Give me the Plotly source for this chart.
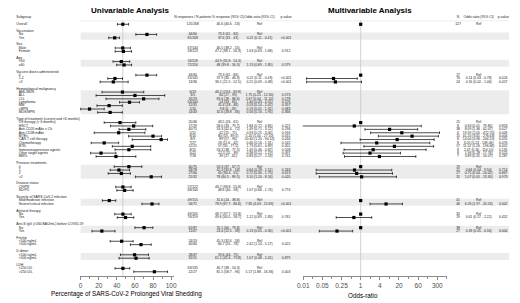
import plotly.graph_objects as go

# ---------------- data ----------------
group_names = ["Vaccination", "Sex", "Age", "Vaccine doses administered", "Hematological malignancy",
               "Type of treatment (current and <6 months)", "Previous treatments", "Disease status",
               "Severity of SARS-CoV-2 infection", "Antiviral therapy",
               "Anti-S IgG (>260 BAU/mL) before COVID-19", "Ferritin", "D-dimer", "LDH"]
group_levels = [["No", "Yes"], ["Male", "Female"], ["<60", "\u226560"], ["0", "1-2", ">2"],
                ["AML/MDS", "ALL", "CLL", "Lymphoma", "MM", "cMPN", "MDS/MPN"],
                ["Off therapy (> 6 months)", "HSCT", "Anti-CD20 mAbs \u00b1 Ch", "Anti-CD38 mAbs", "BiTEs",
                 "CAR-T cell therapy", "Chemotherapy", "BTKi", "Immunosuppressive agents",
                 "Other target agents", "BMTs"],
                ["0", "1", "2", ">2"], ["CR/PR", "SD/PD"],
                ["Mild/moderate infection", "Severe/critical infection"], ["No", "Yes"], ["No", "Yes"],
                ["<500 ng/mL", ">500 ng/mL"], ["<500 ng/mL", ">500 ng/mL"], ["<250 U/L", ">250 U/L"]]
shaded_groups = ["Vaccination", "Age", "Hematological malignancy", "Previous treatments",
                 "Severity of SARS-CoV-2 infection", "Anti-S IgG (>260 BAU/mL) before COVID-19", "D-dimer"]

# univariable (Overall first, then every level in order)
uni_counts = ["125/268",
              "44/60", "81/208", "67/144", "58/123", "53/118", "72/150", "44/60", "55/145", "13/36",
              "6/13", "3/5", "16/23", "54/100", "11/35", "1/10", "14/43",
              "20/46", "17/29", "40/75", "5/12", "8/10", "8/9", "7/27", "12/21", "8/15", "5/22", "7/18",
              "40/75", "33/78", "27/60", "25/32", "57/122", "68/140", "49/155", "56/71",
              "49/105", "76/159", "61/87", "11/47", "24/53", "40/60", "28/47", "31/51", "63/135", "22/27"]
uni_pct = [46.6,
           73.3, 37.6, 46.5, 47.2, 44.9, 48.0, 73.3, 37.9, 36.1,
           46.2, 60.0, 69.6, 54.0, 31.4, 9.8, 32.6,
           43.5, 58.6, 53.3, 42.0, 80.0, 89.0, 26.0, 57.0, 53.3, 22.5, 39.0,
           53.3, 42.3, 45.0, 78.0, 46.7, 48.6, 31.6, 78.9,
           46.7, 49.6, 70.1, 23.4, 45.3, 66.7, 59.6, 61.2, 46.7, 81.5]
uni_lo = [40.6,
          61.0, 31.0, 38.2, 38.1, 35.8, 39.8, 61.0, 30.0, 21.5,
          23.6, 17.0, 28.0, 43.0, 18.0, 0.0, 18.8,
          26.0, 33.0, 42.4, 15.0, 53.0, 57.0, 11.6, 35.0, 38.0, 11.0, 17.0,
          37.0, 32.6, 30.4, 60.5, 38.8, 40.0, 24.0, 67.7,
          37.7, 40.5, 60.0, 12.5, 32.6, 55.0, 44.0, 42.4, 38.0, 58.7]
uni_hi = [53.0,
          84.0, 43.0, 55.0, 56.3, 54.3, 56.3, 84.0, 46.3, 52.5,
          69.8, 93.0, 86.6, 65.0, 46.0, 26.0, 46.0,
          61.0, 79.7, 72.0, 71.0, 89.5, 96.0, 42.0, 77.5, 77.5, 39.0, 61.0,
          67.7, 54.0, 55.0, 89.5, 55.8, 58.0, 38.8, 86.6,
          55.8, 58.7, 79.8, 38.0, 58.0, 78.0, 75.0, 75.8, 54.3, 96.0]
uni_or = ["Ref",
          "Ref", "0.22 (0.11 - 0.41)", "Ref", "1.03 (0.63 - 1.68)", "Ref", "1.13 (0.69 - 1.85)",
          "Ref", "0.22 (0.11 - 0.43)", "0.21 (0.09 - 0.48)",
          "Ref", "1.75 (0.25 - 12.30)", "2.67 (0.64 - 11.10)", "1.40 (0.43 - 4.55)", "0.53 (0.14 - 2.02)",
          "0.13 (0.01 - 1.31)", "0.56 (0.16 - 1.95)",
          "Ref", "1.84 (0.72 - 4.80)", "1.49 (0.71 - 3.12)", "0.93 (0.25 - 3.40)", "5.20 (1.00 - 27.10)",
          "10.40 (1.20 - 90.10)", "0.46 (0.16 - 1.31)", "1.73 (0.61 - 4.89)", "1.49 (0.46 - 4.82)",
          "0.38 (0.12 - 1.19)", "0.83 (0.27 - 2.53)",
          "Ref", "0.64 (0.28 - 1.51)", "0.72 (0.30 - 1.75)", "3.10 (1.20 - 8.16)",
          "Ref", "1.07 (0.66 - 1.74)", "Ref", "7.85 (4.03 - 15.69)", "Ref", "1.12 (0.69 - 1.83)",
          "Ref", "0.13 (0.05 - 0.30)", "Ref", "2.42 (1.14 - 5.17)", "Ref", "1.07 (0.48 - 2.41)",
          "Ref", "5.17 (1.88 - 16.36)"]
uni_p = ["",
         "", "<0.001", "", "0.912", "", "0.579", "", "<0.001", "<0.001",
         "", "0.573", "0.178", "0.576", "0.357", "0.083", "0.366",
         "", "0.221", "0.296", "0.916", "0.051", "0.034", "0.145", "0.301", "0.508", "0.097", "0.741",
         "", "0.263", "0.613", "0.020", "", "0.774", "", "<0.001", "", "0.761",
         "", "<0.001", "", "0.022", "", "0.879", "", "0.003"]

# multivariable (None = not in model)
multi_n = ["127",
           None, None, None, None, None, None, "27", "76", "24",
           None, None, None, None, None, None, None,
           "15", "8", "38", "6", "15", "8", "8", "17", "8", "8", "7",
           "19", "21", "27", "31", None, None, "41", "46",
           "32", "19", "38", "27", None, None, None, None, None, None]
multi_est = [1,
             None, None, None, None, None, None, 1, 0.14, 0.16,
             None, None, None, None, None, None, None,
             1, 0.63, 8.09, 19.6, 41.2, 14.0, 3.2, 11.5, 2.47, 1.96, 3.89,
             1, 0.64, 0.75, 1.07, None, None, 1, 6.26,
             1, 0.61, 1, 0.18, None, None, None, None, None, None]
multi_lo = [None,
            None, None, None, None, None, None, None, 0.02, 0.02,
            None, None, None, None, None, None, None,
            None, 0.012, 1.36, 2.05, 3.6, 0.96, 0.24, 1.26, 0.30, 0.28, 0.31,
            None, 0.04, 0.04, 0.05, None, None, None, 1.97,
            None, 0.17, None, 0.05, None, None, None, None, None, None]
multi_hi = [None,
            None, None, None, None, None, None, None, 0.78, 1.06,
            None, None, None, None, None, None, None,
            None, 80.0, 62.0, 300.0, 276.0, 204.0, 149.0, 196.0, 114.0, 17.8, 54.1,
            None, 9.5, 10.0, 13.3, None, None, None, 20.5,
            None, 2.22, None, 0.56, None, None, None, None, None, None]
multi_or = ["Ref",
            None, None, None, None, None, None, "Ref", "0.14 (0.03 - 0.78)", "0.16 (0.02 - 1.06)",
            None, None, None, None, None, None, None,
            "Ref", "0.63 (0.01 - 79.80)", "8.09 (1.36 - 62.07)", "19.59 (2.05 - 472.70)",
            "41.20 (3.61 - 276.63)", "14.00 (0.96 - 204.10)", "3.20 (0.24 - 149.06)",
            "11.52 (1.26 - 196.66)", "2.47 (0.30 - 114.10)", "1.96 (0.28 - 17.76)", "3.89 (0.31 - 54.07)",
            "Ref", "0.64 (0.04 - 9.50)", "0.75 (0.04 - 10.02)", "1.07 (0.05 - 13.30)", None, None,
            "Ref", "6.26 (1.97 - 20.53)", "Ref", "0.61 (0.17 - 2.22)", "Ref", "0.18 (0.05 - 0.56)",
            None, None, None, None, None, None]
multi_p = ["",
           None, None, None, None, None, None, "", "0.024", "0.057",
           None, None, None, None, None, None, None,
           "", "0.853", "0.027", "0.009", "0.004", "0.055", "0.476", "0.052", "0.135", "0.525", "0.287",
           "", "0.714", "0.867", "0.973", None, None, "", "0.002", "", "0.452", "", "0.004",
           None, None, None, None, None, None]

x_ticks_uni = [0, 20, 40, 60, 80, 100]
x_ticks_multi = [4 ** k for k in range(-3, 5)]
x_ticktext_multi = ["0.01", "0.05", "0.25", "1", "4", "20", "60", "300"]

# ---------------- layout of rows ----------------
W, H = 520, 303
Y0, DY = 17.5, 3.39          # pixel of row 0, pixel per row
Y_AX = 276                   # pixel of x-axis line

row_k, row_lab, row_hdr = [], [], []
item_k = [2]                 # overall
row_k += [0, 2]; row_lab += ["Subgroup", "Overall"]; row_hdr += [True, True]
k = 4
bands = []
for g, lv in zip(group_names, group_levels):
    row_k.append(k); row_lab.append(g); row_hdr.append(True)
    k0 = k + 1
    for l in lv:
        k += 1
        row_k.append(k); row_lab.append(l); row_hdr.append(False)
        item_k.append(k)
    if g in shaded_groups:
        bands.append((k0, k))
    k += 2

FONT = "Liberation Sans, Arial, sans-serif"
TXT = "#222222"
fig = go.Figure()

def px2paper_y(p):
    return 1 - p / H

# shaded bands (paper-x so they sit in the global layer below every subplot)
for a, b in bands:
    fig.add_shape(type="rect", xref="paper", yref="y", x0=76 / W, x1=512 / W, y0=a - 0.55, y1=b + 0.55,
                  fillcolor="#ececec", line_width=0, layer="below")
# header separator
fig.add_shape(type="line", xref="paper", yref="y", x0=76 / W, x1=512 / W, y0=1.0, y1=1.0,
              line=dict(color="#e3e3e3", width=0.6), layer="below")

# reference lines
fig.add_shape(type="line", xref="x", yref="y", x0=uni_pct[0], x1=uni_pct[0], y0=0.8,
              y1=(Y_AX - Y0) / DY, line=dict(color="#c8c8c8", width=0.8), layer="below")
fig.add_shape(type="line", xref="x2", yref="y", x0=1, x1=1, y0=0.8,
              y1=(Y_AX - Y0) / DY, line=dict(color="#c8c8c8", width=0.8), layer="below")

# univariable forest
fig.add_trace(go.Scatter(
    x=uni_pct, y=item_k, mode="markers", xaxis="x", yaxis="y", cliponaxis=False,
    marker=dict(symbol="square", size=3.2, color="black"),
    error_x=dict(type="data", symmetric=False,
                 array=[h - p for h, p in zip(uni_hi, uni_pct)],
                 arrayminus=[p - l for p, l in zip(uni_pct, uni_lo)],
                 color="black", thickness=0.7, width=1.3),
    showlegend=False, hoverinfo="skip"))

# multivariable forest: points with CI, and Ref points
mk, me, ml, mh, rk = [], [], [], [], []
for kk, e, l, h in zip(item_k, multi_est, multi_lo, multi_hi):
    if e is None:
        continue
    if l is None:
        rk.append(kk)
    else:
        mk.append(kk); me.append(e); ml.append(l); mh.append(h)
fig.add_trace(go.Scatter(
    x=me, y=mk, mode="markers", xaxis="x2", yaxis="y", cliponaxis=False,
    marker=dict(symbol="square", size=3.2, color="black"),
    error_x=dict(type="data", symmetric=False,
                 array=[h - e for h, e in zip(mh, me)],
                 arrayminus=[e - l for e, l in zip(me, ml)],
                 color="black", thickness=0.7, width=1.3),
    showlegend=False, hoverinfo="skip"))
fig.add_trace(go.Scatter(
    x=[1] * len(rk), y=rk, mode="markers", xaxis="x2", yaxis="y", cliponaxis=False,
    marker=dict(symbol="square", size=3.2, color="black"), showlegend=False, hoverinfo="skip"))

# text helper
def text_trace(xs, ys, texts, pos, size=3.4, color=TXT):
    fig.add_trace(go.Scatter(x=xs, y=ys, text=texts, mode="text", xaxis="x3", yaxis="y",
                             textposition=pos, cliponaxis=False,
                             textfont=dict(family=FONT, size=size, color=color),
                             showlegend=False, hoverinfo="skip"))

# row labels
text_trace([10.5 if h else 13.0 for h in row_hdr], row_k, row_lab, "middle right")

# column headers
text_trace([190, 226, 258, 285, 460, 481, 506], [0] * 7,
           ["N responses / N patients", "% response (95% CI)", "Odds-ratio (95% CI)", "p-value",
            "N", "Odds-ratio (95% CI)", "p-value"], "middle center")

# univariable columns
text_trace([190] * len(item_k), item_k, uni_counts, "middle center")
text_trace([226] * len(item_k), item_k,
           [f"{p:g} ({l:g} - {h:g})" for p, l, h in zip(uni_pct, uni_lo, uni_hi)], "middle center")
text_trace([258] * len(item_k), item_k, uni_or, "middle center")
text_trace([285] * len(item_k), item_k, uni_p, "middle center")

# multivariable columns
sel = [i for i, v in enumerate(multi_n) if v is not None]
text_trace([460] * len(sel), [item_k[i] for i in sel], [multi_n[i] for i in sel], "middle center")
text_trace([481] * len(sel), [item_k[i] for i in sel], [multi_or[i] for i in sel], "middle center")
text_trace([506] * len(sel), [item_k[i] for i in sel], [multi_p[i] for i in sel], "middle center")

# titles
ann = [
    dict(text="<b>Univariable Analysis</b>", x=127 / W, y=px2paper_y(10.5), font=dict(size=8.0)),
    dict(text="<b>Multivariable Analysis</b>", x=370 / W, y=px2paper_y(11), font=dict(size=8.0)),
    dict(text="Percentage of SARS-CoV-2 Prolonged Viral Shedding", x=123 / W, y=px2paper_y(294),
         font=dict(size=6.3)),
    dict(text="Odds-ratio", x=363 / W, y=px2paper_y(295), font=dict(size=6.3)),
]
for a in ann:
    a.update(xref="paper", yref="paper", showarrow=False, xanchor="center", yanchor="middle")
    a["font"].update(family=FONT, color="black")
fig.update_layout(annotations=ann)

kbot = (Y_AX - Y0) / DY
ktop = (0 - Y0) / DY
axis_common = dict(showgrid=False, zeroline=False, showline=True, linecolor="#8c8c8c", linewidth=0.8,
                   ticks="outside", ticklen=3, tickwidth=0.8, tickcolor="#8c8c8c",
                   tickfont=dict(family=FONT, size=6.5, color="#4d4d4d"), anchor="y")
fig.update_layout(
    width=W, height=H, margin=dict(l=0, r=0, t=0, b=0),
    paper_bgcolor="white", plot_bgcolor="rgba(0,0,0,0)",
    xaxis=dict(domain=[75 / W, 171 / W], range=[-1.087, 103.26], tickvals=x_ticks_uni,
               minor=dict(tickvals=[10, 30, 50, 70, 90], ticklen=2, tickcolor="#8c8c8c", ticks="outside"),
               **axis_common),
    xaxis2=dict(domain=[302 / W, 449 / W], type="log", range=[-1.82, 2.72],
                tickvals=x_ticks_multi, ticktext=x_ticktext_multi,
                minor=dict(tickvals=[2 * 4 ** k for k in range(-4, 5)], ticklen=2,
                           tickcolor="#8c8c8c", ticks="outside"),
                **axis_common),
    xaxis3=dict(domain=[0, 1], range=[0, W], visible=False, anchor="y"),
    yaxis=dict(domain=[1 - Y_AX / H, 1], range=[kbot, ktop], visible=False, fixedrange=True),
)

fig.write_html("out.html", config={"displayModeBar": False},
               post_script="document.body.style.margin='0';document.body.style.padding='0';")
